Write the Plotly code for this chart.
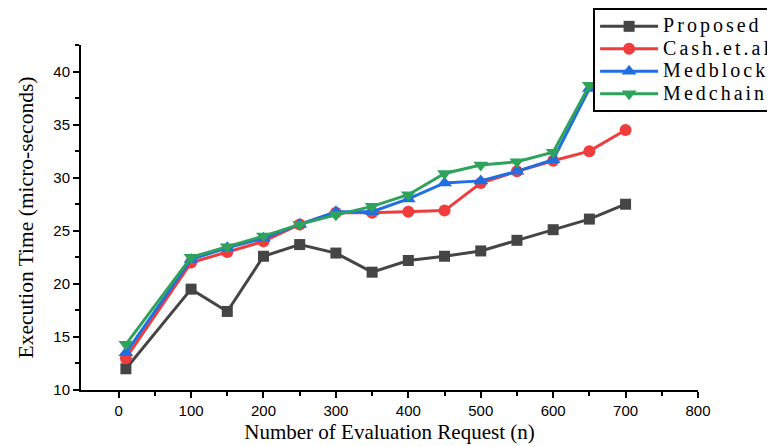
import plotly.graph_objects as go

x_vals = [10, 100, 150, 200, 250, 300, 350, 400, 450, 500, 550, 600, 650, 700]
proposed = [12.0, 19.5, 17.4, 22.6, 23.7, 22.9, 21.1, 22.2, 22.6, 23.1, 24.1, 25.1, 26.1, 27.5]
cash = [13.0, 22.0, 23.0, 24.0, 25.6, 26.7, 26.7, 26.8, 26.9, 29.5, 30.6, 31.6, 32.5, 34.5]
medblock = [13.5, 22.3, 23.4, 24.3, 25.6, 26.8, 26.8, 28.0, 29.5, 29.7, 30.6, 31.7, 38.4]
medchain = [14.3, 22.5, 23.5, 24.5, 25.6, 26.5, 27.3, 28.4, 30.4, 31.2, 31.5, 32.4, 38.7]

series = [
    ("Proposed", proposed, "#454545", "square", 11),
    ("Cash.et.al", cash, "#f03c3c", "circle", 12),
    ("Medblock", medblock, "#1f6fe0", "triangle-up", 13),
    ("Medchain", medchain, "#2ea35c", "triangle-down", 13),
]

fig = go.Figure()
for name, ys, color, sym, size in series:
    fig.add_trace(go.Scatter(
        x=x_vals[:len(ys)], y=ys,
        name='<span style="font-size:20px;letter-spacing:3px">' + name + '</span>',
        mode="lines+markers",
        line=dict(color=color, width=3),
        marker=dict(symbol=sym, size=size, color=color),
    ))

axis_common = dict(
    showline=True, linecolor="black", linewidth=2, mirror=False,
    ticks="outside", ticklen=6, tickwidth=2, tickcolor="black",
    showgrid=False, zeroline=False,
    tickfont=dict(family="Liberation Sans, Arial", size=15, color="black"),
)

fig.update_layout(
    width=775, height=446,
    paper_bgcolor="white", plot_bgcolor="white",
    margin=dict(l=73, r=85, t=37, b=64, autoexpand=False),
    xaxis=dict(range=[-52, 800], tickvals=list(range(0, 801, 100)),
               minor=dict(tickvals=list(range(50, 800, 100)), ticks="outside", ticklen=4, tickwidth=2, tickcolor="black"),
               title=dict(text="Number of Evaluation Request (n)", font=dict(family="Liberation Serif, Times New Roman", size=21, color="black"), standoff=6),
               **axis_common),
    yaxis=dict(range=[10, 42.5], tickvals=list(range(10, 41, 5)),
               minor=dict(tickvals=[12.5 + 5 * i for i in range(7)], ticks="outside", ticklen=4, tickwidth=2, tickcolor="black"),
               title=dict(text="Execution Time (micro-seconds)", font=dict(family="Liberation Serif, Times New Roman", size=21.5, color="black"), standoff=14),
               **axis_common),
    legend=dict(x=0.83, y=1.107, xanchor="left", yanchor="top",
                bgcolor="white", bordercolor="black", borderwidth=2,
                font=dict(family="Liberation Serif, Times New Roman", size=15, color="black"),
                tracegroupgap=0, itemwidth=58),
    showlegend=True,
)

fig.write_html("out.html")
